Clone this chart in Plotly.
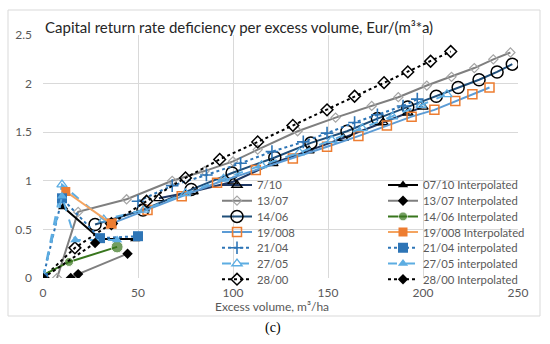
import plotly.graph_objects as go

# ---- data ----
x_710 = [61, 79, 100, 121, 140, 158, 179, 192, 200]
y_710 = [0.82, 0.89, 0.99, 1.18, 1.31, 1.44, 1.60, 1.70, 1.76]

x_1307 = [7.4, 18.5, 44, 68, 85, 100, 113, 134, 154, 173, 187, 202, 215, 227, 237, 246]
y_1307 = [0, 0.68, 0.81, 1.0, 1.10, 1.20, 1.32, 1.51, 1.65, 1.77, 1.86, 1.98, 2.07, 2.16, 2.25, 2.32]

x_1406 = [27.4, 52.6, 78, 99.5, 122, 141, 160, 176, 192, 207, 218.5, 229.5, 239, 247]
y_1406 = [0.55, 0.70, 0.91, 1.08, 1.24, 1.39, 1.51, 1.64, 1.76, 1.87, 1.96, 2.04, 2.12, 2.20]

x_19008 = [36, 55, 73, 91.6, 112, 131.5, 149.5, 166, 181, 194, 206, 217, 226, 235]
y_19008 = [0.56, 0.70, 0.84, 0.98, 1.11, 1.23, 1.35, 1.46, 1.57, 1.66, 1.73, 1.82, 1.89, 1.96]

x_2104 = [50, 68, 86, 104, 120.5, 137, 149.5, 164, 176, 189.5, 197]
y_2104 = [0.79, 0.95, 1.06, 1.18, 1.30, 1.40, 1.49, 1.60, 1.68, 1.77, 1.84]

x_2705 = [0, 10, 32, 53, 75, 95, 115, 135, 152, 168, 184, 199, 212.6]
y_2705 = [0, 0.96, 0.60, 0.70, 0.87, 1.02, 1.16, 1.29, 1.42, 1.54, 1.66, 1.78, 1.89]

x_2800 = [0, 16.8, 36, 54.5, 75, 93, 113, 131.5, 149.5, 164, 179.5, 192, 204, 214.6]
y_2800 = [0, 0.31, 0.56, 0.79, 1.03, 1.22, 1.40, 1.57, 1.73, 1.87, 2.01, 2.12, 2.23, 2.33]

# interpolated series
xi_710 = [10.6, 30, 48.5]
yi_710 = [0.73, 0.40, 0.40]
xi_1307 = [14.6, 18.5, 44.5]
yi_1307 = [0, 0.04, 0.25]
xi_1406 = [0, 13.7, 39]
yi_1406 = [0.03, 0.165, 0.32]
xi_19008 = [12, 36]
yi_19008 = [0.89, 0.56]
xi_2104 = [0, 10, 30, 50]
yi_2104 = [0, 0.82, 0.41, 0.43]
xi_2705 = [0, 10, 17, 39]
yi_2705 = [0, 0.84, 0.39, 0.39]
xi_2800 = [0, 27.4]
yi_2800 = [0, 0.36]

x_ticks = [0, 50, 100, 150, 200, 250]
y_ticks = [0, 0.5, 1, 1.5, 2, 2.5]
y_ticktext = ["0", "0.5", "1", "1.5", "2", "2.5"]

FONT = "Lato"
GRAY = "#595959"

fig = go.Figure()

raw = [
    ("7/10", x_710, y_710, dict(color="#1f3864", width=2, dash="solid"),
     dict(symbol="triangle-up-open", size=9, color="black", line=dict(width=1.3, color="black"))),
    ("13/07", x_1307, y_1307, dict(color="#7f7f7f", width=2, dash="solid"),
     dict(symbol="diamond-open", size=7, color="#a5a5a5", line=dict(width=1.2, color="#a5a5a5"))),
    ("14/06", x_1406, y_1406, dict(color="#1f4e79", width=2, dash="solid"),
     dict(symbol="circle-open", size=12, color="black", line=dict(width=1.5, color="black"))),
    ("19/008", x_19008, y_19008, dict(color="#5b9bd5", width=2, dash="solid"),
     dict(symbol="square-open", size=9, color="#ed7d31", line=dict(width=1.5, color="#ed7d31"))),
    ("21/04", x_2104, y_2104, dict(color="#2e75b6", width=2, dash="dot"),
     dict(symbol="cross-thin-open", size=9, color="#2e75b6", line=dict(width=1.6, color="#2e75b6"))),
    ("27/05", x_2705, y_2705, dict(color="#5dade2", width=2, dash="dash"),
     dict(symbol="triangle-up-open", size=9, color="#5dade2", line=dict(width=1.3, color="#5dade2"))),
    ("28/00", x_2800, y_2800, dict(color="black", width=2, dash="dot"),
     dict(symbol="diamond-open", size=9, color="black", line=dict(width=1.5, color="black"))),
]

interp = [
    ("07/10 Interpolated", xi_710, yi_710, dict(color="black", width=2, dash="solid"),
     dict(symbol="triangle-up", size=9, color="black")),
    ("13/07 Interpolated", xi_1307, yi_1307, dict(color="#7f7f7f", width=2, dash="solid"),
     dict(symbol="diamond", size=8, color="black")),
    ("14/06 Interpolated", xi_1406, yi_1406, dict(color="#38761d", width=2, dash="solid"),
     dict(symbol="circle", size=[6, 9, 12], color="#38761d")),
    ("19/008 Interpolated", xi_19008, yi_19008, dict(color="#f4a460", width=2, dash="solid"),
     dict(symbol="square", size=9, color="#ed7d31")),
    ("21/04 interpolated", xi_2104, yi_2104, dict(color="#2e75b6", width=2, dash="dot"),
     dict(symbol="square", size=10, color="#2e75b6")),
    ("27/05 interpolated", xi_2705, yi_2705, dict(color="#5dade2", width=2, dash="dash"),
     dict(symbol="triangle-up", size=9, color="#5dade2")),
    ("28/00 Interpolated", xi_2800, yi_2800, dict(color="black", width=2, dash="dot"),
     dict(symbol="diamond", size=8, color="black")),
]

for name, xs, ys, ln, mk in raw:
    fig.add_trace(go.Scatter(x=xs, y=ys, name=name, mode="lines+markers",
                             line=ln, marker=mk, legend="legend"))
for name, xs, ys, ln, mk in interp:
    fig.add_trace(go.Scatter(x=xs, y=ys, name=name, mode="lines+markers",
                             line=ln, marker=mk, legend="legend2"))

W, H = 550, 344
L, R, T, B = 43, 32, 35, 66
pw, ph = W - L - R, H - T - B

def px_x(p):
    return (p - L) / pw

def px_y(p):
    return (H - B - p) / ph

legend_common = dict(bgcolor="rgba(0,0,0,0)", borderwidth=0,
                     font=dict(family=FONT, size=11.3, color=GRAY),
                     xanchor="left", yanchor="top", tracegroupgap=0,
                     itemsizing="trace")

fig.update_layout(
    width=W, height=H,
    margin=dict(l=L, r=R, t=T, b=B, autoexpand=False),
    paper_bgcolor="white", plot_bgcolor="white",
    font=dict(family=FONT, size=12, color=GRAY),
    showlegend=True,
    legend=dict(x=px_x(217), y=px_y(170.5), **legend_common),
    legend2=dict(x=px_x(383), y=px_y(170.5), **legend_common),
    xaxis=dict(range=[0, 250], tickvals=x_ticks, showgrid=True, gridcolor="#d9d9d9",
               gridwidth=1, zeroline=False, showline=False, ticks="",
               ticklabelstandoff=6,
               tickfont=dict(family=FONT, size=12, color=GRAY), fixedrange=True,
               automargin=False),
    yaxis=dict(range=[0, 2.5], tickvals=y_ticks, ticktext=y_ticktext,
               showgrid=True, gridcolor="#d9d9d9",
               gridwidth=1, zeroline=False, showline=False, ticks="",
               ticklabelstandoff=10,
               tickfont=dict(family=FONT, size=12, color=GRAY), fixedrange=True,
               automargin=False),
    shapes=[dict(type="rect", xref="paper", yref="paper",
                 x0=px_x(8), x1=px_x(540), y0=px_y(316), y1=px_y(10),
                 line=dict(color="#d9d9d9", width=1), fillcolor="rgba(0,0,0,0)", layer="below")],
    annotations=[
        dict(text="Capital return rate deficiency per excess volume, Eur/(m³*a)",
             xref="paper", yref="paper", x=px_x(43), y=px_y(27), xanchor="left", yanchor="middle",
             showarrow=False, font=dict(family=FONT, size=15, color="#262626")),
        dict(text="Excess volume, m³/ha",
             xref="paper", yref="paper", x=px_x(272), y=px_y(306), xanchor="center", yanchor="middle",
             showarrow=False, font=dict(family=FONT, size=12, color=GRAY)),
        dict(text="(c)",
             xref="paper", yref="paper", x=px_x(273), y=px_y(328), xanchor="center", yanchor="middle",
             showarrow=False, font=dict(family="Liberation Serif", size=14, color="black")),
    ],
)

# remove the default page margin and tighten legend row spacing to match the reference
POST = """
document.body.style.margin = '0';
document.body.style.overflow = 'hidden';
var gd = document.getElementById('{plot_id}');
var step = 15.7;
gd.querySelectorAll('g.legend, g.legend2').forEach(function(lg){
  var trs = lg.querySelectorAll('g.traces');
  var y0 = null;
  trs.forEach(function(t, i){
    var tf = t.getAttribute('transform') || '';
    var m = /translate\\(\\s*([-0-9.e]+)[ ,]+([-0-9.e]+)\\s*\\)/.exec(tf);
    if(!m) return;
    var x = parseFloat(m[1]), y = parseFloat(m[2]);
    if(y0 === null) y0 = y;
    t.setAttribute('transform', 'translate(' + x + ',' + (y0 + i*step) + ')');
  });
});
"""

fig.write_html("out.html", post_script=POST, config={"displayModeBar": False, "staticPlot": True})
